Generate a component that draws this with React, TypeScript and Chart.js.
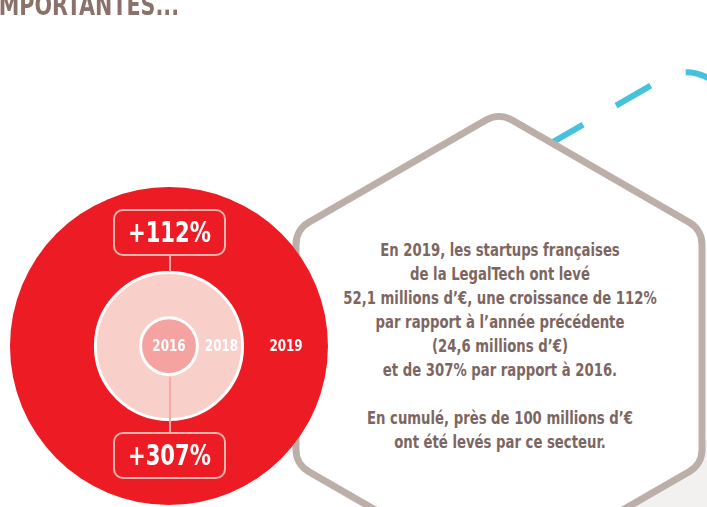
import React, { useEffect, useRef } from "react";
import { Chart, registerables } from "chart.js";

Chart.register(...registerables);

// ---- data ----
const years = ["2016", "2018", "2019"];
// circle radii as drawn, in "millions d'€" units (2018 = 24,6 ; 2019 = 52,1)
const circleSizes = [9.8, 24.6, 52.1];
const circleColors = ["#f4a3a0", "#f9cfca", "#ed1c24"];
const circleBorderWidths = [3, 3, 0];
const growthLabels = ["+112%", "+307%"];
const titleText = "IMPORTANTES...";
const bodyLines = [
  "En 2019, les startups françaises",
  "de la LegalTech ont levé",
  "52,1 millions d’€, une croissance de 112%",
  "par rapport à l’année précédente",
  "(24,6 millions d’€)",
  "et de 307% par rapport à 2016.",
  "",
  "En cumulé, près de 100 millions d’€",
  "ont été levés par ce secteur.",
];

// ---- layout (scale ranges) ----
const X_MIN = -55.37;
const X_MAX = 176.3;
const Y_MIN = -52.75;
const Y_MAX = 113.4;

const FONT = '"Liberation Sans Narrow", "Arial Narrow", "DejaVu Sans Condensed", "Roboto Condensed", sans-serif';
const CONNECTOR = "#f6aaa5";

function roundedPolygon(pts: number[][], r: number): string {
  const n = pts.length;
  let d = "";
  for (let i = 0; i < n; i++) {
    const p0 = pts[(i - 1 + n) % n];
    const p1 = pts[i];
    const p2 = pts[(i + 1) % n];
    const v1 = [p0[0] - p1[0], p0[1] - p1[1]];
    const v2 = [p2[0] - p1[0], p2[1] - p1[1]];
    const l1 = Math.hypot(v1[0], v1[1]);
    const l2 = Math.hypot(v2[0], v2[1]);
    const ang = Math.acos((v1[0] * v2[0] + v1[1] * v2[1]) / (l1 * l2));
    const t = r / Math.tan(ang / 2);
    const a = [p1[0] + (v1[0] / l1) * t, p1[1] + (v1[1] / l1) * t];
    const b = [p1[0] + (v2[0] / l2) * t, p1[1] + (v2[1] / l2) * t];
    d += (i === 0 ? "M" : "L") + a[0].toFixed(2) + " " + a[1].toFixed(2) + " ";
    d += "A" + r + " " + r + " 0 0 1 " + b[0].toFixed(2) + " " + b[1].toFixed(2) + " ";
  }
  return d + "Z";
}

const hexCx = 499;
const hexCy = 347;
const hexR = 234.4;
const hexPts = [-90, -30, 30, 90, 150, 210].map((deg) => [
  hexCx + hexR * Math.cos((deg * Math.PI) / 180),
  hexCy + hexR * Math.sin((deg * Math.PI) / 180),
]);

const yearLabelPlugin = {
  id: "yearLabels",
  afterDatasetsDraw(chart: any) {
    const xs = chart.scales.x;
    const ys = chart.scales.y;
    const ctx = chart.ctx;
    ctx.save();
    ctx.fillStyle = "#ffffff";
    ctx.font = "bold 16px " + FONT;
    ctx.textAlign = "center";
    ctx.textBaseline = "middle";
    years.forEach((yr, i) => {
      const off = i === 0 ? 0 : (circleSizes[i - 1] + circleSizes[i]) / 2;
      ctx.save();
      ctx.translate(xs.getPixelForValue(off), ys.getPixelForValue(0) + 0.5);
      ctx.scale(0.83, 1);
      ctx.fillText(yr, 0, 0);
      ctx.restore();
    });
    ctx.restore();
  },
};

function BubbleChart() {
  const ref = useRef<HTMLCanvasElement | null>(null);
  useEffect(() => {
    if (!ref.current) return;
    const order = [2, 1, 0];
    const points = order.map((i) => ({ x: 0, y: 0, r: 0, v: circleSizes[i], bw: circleBorderWidths[i] }));
    const chart = new Chart(ref.current, {
      type: "bubble",
      data: {
        datasets: [
          {
            data: points as any,
            backgroundColor: order.map((i) => circleColors[i]),
            borderColor: "#ffffff",
            borderWidth: order.map((i) => circleBorderWidths[i]),
            clip: false,
          } as any,
        ],
      },
      options: {
        animation: false,
        responsive: false,
        maintainAspectRatio: false,
        devicePixelRatio: 1,
        events: [],
        layout: { padding: 0, autoPadding: false },
        plugins: { legend: { display: false }, tooltip: { enabled: false } },
        scales: {
          x: { type: "linear", min: X_MIN, max: X_MAX, display: false },
          y: { type: "linear", min: Y_MIN, max: Y_MAX, display: false },
        },
      } as any,
      plugins: [yearLabelPlugin],
    });
    // radii in pixels, measured through the x scale
    const xs = chart.scales.x;
    points.forEach((p) => {
      p.r = Math.abs(xs.getPixelForValue(p.v) - xs.getPixelForValue(0)) - p.bw / 2;
    });
    chart.update();
    return () => chart.destroy();
  }, []);
  return (
    <canvas
      ref={ref}
      width={707}
      height={507}
      style={{ position: "absolute", left: 0, top: 0, width: 707, height: 507 }}
    />
  );
}

function GrowthBox({ text, top }: { text: string; top: number }) {
  return (
    <div
      style={{
        position: "absolute",
        left: 113,
        top,
        width: 113,
        height: 47,
        boxSizing: "border-box",
        border: "2px solid #f6b3ae",
        borderRadius: 10,
        color: "#ffffff",
        fontFamily: FONT,
        fontWeight: 700,
        fontSize: 28,
        display: "flex",
        alignItems: "center",
        justifyContent: "center",
        lineHeight: 1,
      }}
    >
      <span style={{ display: "inline-block", transform: "scaleX(0.84)", whiteSpace: "nowrap" }}>{text}</span>
    </div>
  );
}

export default function App() {
  return (
    <div
      style={{
        position: "fixed",
        left: 0,
        top: 0,
        width: 707,
        height: 507,
        overflow: "hidden",
        background: "#ffffff",
      }}
    >
      <svg width={707} height={507} style={{ position: "absolute", left: 0, top: 0 }}>
        <rect x={560} y={440} width={147} height={67} fill="#f3f1f0" />
        <path
          d="M480.9 183.6 L663.5 78.2 A45 45 0 0 1 708.5 78.2 L760 107.9"
          fill="none"
          stroke="#45c2de"
          strokeWidth={6}
          strokeDasharray="40 38"
        />
        <path d={roundedPolygon(hexPts, 25)} fill="#ffffff" stroke="#bcaea9" strokeWidth={7} />
      </svg>
      <div
        style={{
          position: "absolute",
          left: 250,
          top: 238,
          width: 500,
          textAlign: "center",
          fontFamily: FONT,
          fontWeight: 700,
          fontSize: 17,
          lineHeight: "24px",
          color: "#7c6661",
          whiteSpace: "nowrap",
          transform: "scaleX(0.865)",
          transformOrigin: "250px 0",
        }}
      >
        {bodyLines.map((l, i) => (
          <div key={i} style={{ height: 24 }}>
            {l}
          </div>
        ))}
      </div>
      <BubbleChart />
      <div style={{ position: "absolute", left: 169, top: 256, width: 2, height: 16, background: CONNECTOR }} />
      <div style={{ position: "absolute", left: 169, top: 377, width: 2, height: 55, background: CONNECTOR }} />
      <GrowthBox text={growthLabels[0]} top={209} />
      <GrowthBox text={growthLabels[1]} top={432} />
      <div
        style={{
          position: "absolute",
          left: -9,
          top: -8,
          fontFamily: FONT,
          fontWeight: 700,
          fontSize: 28,
          lineHeight: "28px",
          color: "#8a716a",
          whiteSpace: "nowrap",
          transform: "scaleX(0.82)",
          transformOrigin: "0 0",
        }}
      >
        {titleText}
      </div>
    </div>
  );
}
